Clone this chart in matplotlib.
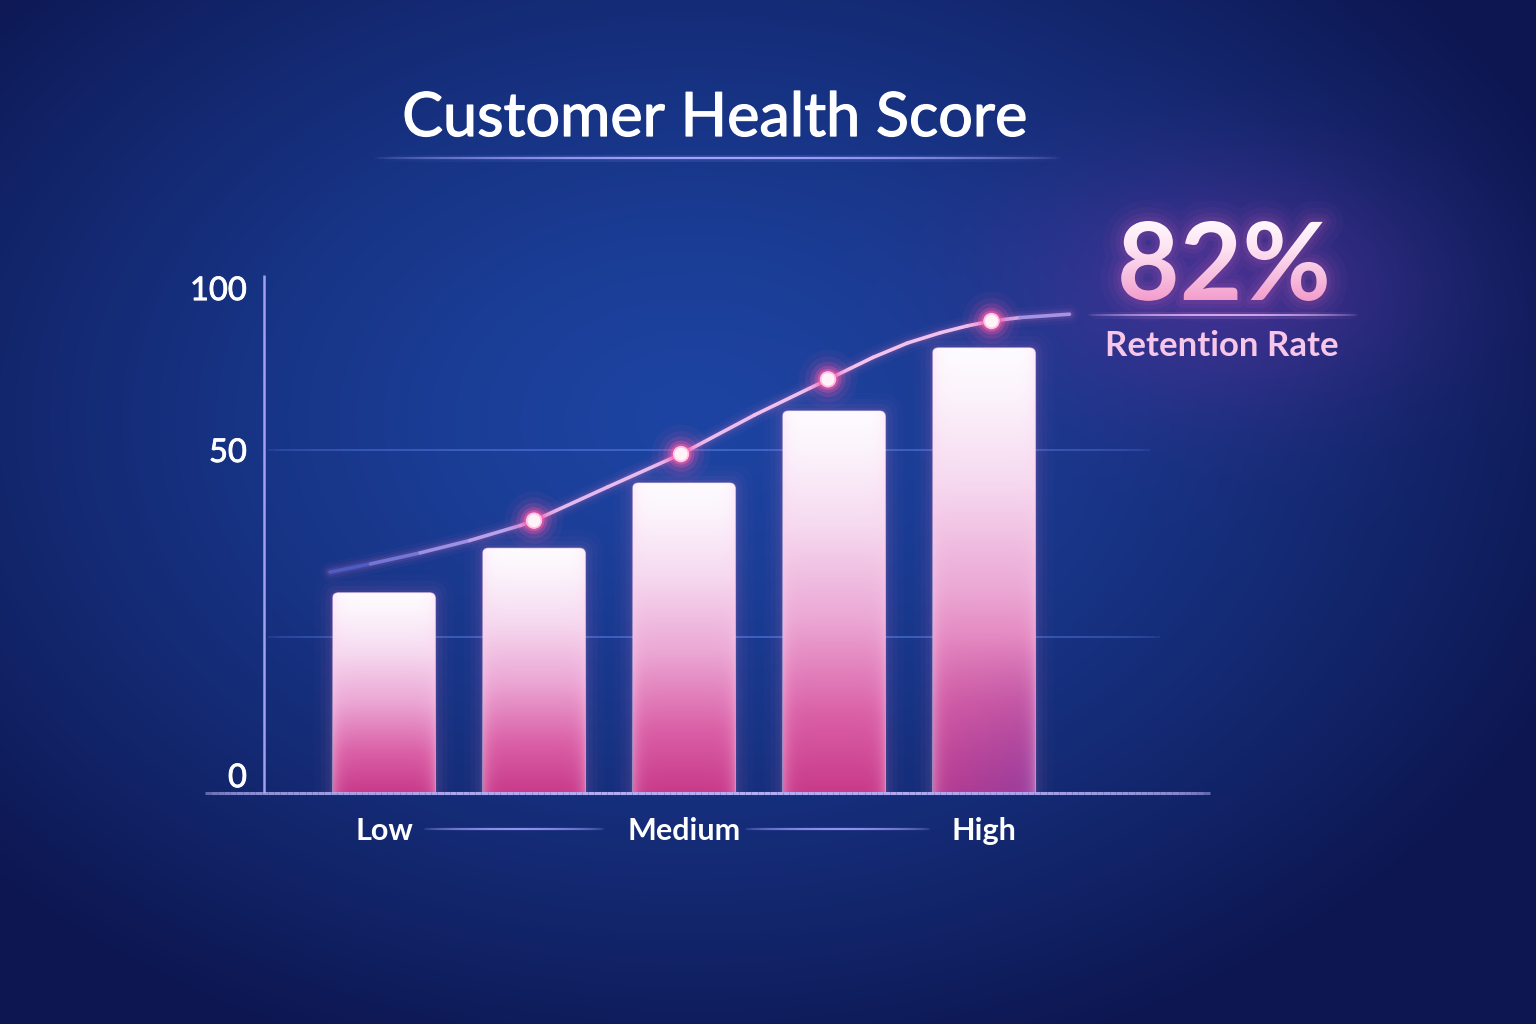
import numpy as np
import matplotlib
matplotlib.use("Agg")
import matplotlib.pyplot as plt
import matplotlib.patheffects as pe
from matplotlib.patches import FancyBboxPatch, PathPatch
from matplotlib.collections import LineCollection
from matplotlib.textpath import TextPath
from matplotlib.font_manager import FontProperties
from matplotlib.colors import LinearSegmentedColormap, to_rgba
from matplotlib.transforms import Affine2D, blended_transform_factory

# ---------------- data ----------------
title = "Customer Health Score"
segment_labels = ["Low", "Medium", "High"]
segment_positions = [0, 2, 4]
bar_positions = [0, 1, 2, 3, 4]
bar_values = [29.2, 35.7, 45.2, 55.7, 64.9]
trend_x = [-0.36, -0.09, 0.24, 0.57, 0.91, 1.0, 1.49, 1.98, 2.47, 2.96,
           3.26, 3.49, 3.71, 3.89, 4.05, 4.24, 4.57]
trend_y = [32.2, 33.4, 35.0, 36.8, 39.0, 39.7, 44.6, 49.4, 55.1, 60.3,
           63.5, 65.6, 67.1, 68.1, 68.8, 69.3, 69.8]
point_x = [1.0, 1.98, 2.96, 4.05]
point_y = [39.7, 49.4, 60.3, 68.8]
y_labels = ["0", "50", "100"]
y_label_levels = [2.6, 50, 73.6]
grid_levels = [22.7, 50]
kpi_value = 82
kpi_label = "Retention Rate"

FONT = "Lato"
W, H = 1536, 1024
fig = plt.figure(figsize=(W / 100, H / 100), dpi=100)

# ---------------- background ----------------
bg = fig.add_axes([0, 0, 1, 1], zorder=0)
bg.axis("off")
yy, xx = np.mgrid[0:H, 0:W].astype(float)
d = np.sqrt(((xx - 690) / 950) ** 2 + ((yy - 420) / 680) ** 2)
t = np.clip(d, 0, 1) ** 1.35
c_in = np.array([29, 68, 162]) / 255
c_out = np.array([13, 22, 80]) / 255
img = c_in * (1 - t[..., None]) + c_out * t[..., None]
g = np.exp(-(((xx - 1225) / 200) ** 2 + ((yy - 285) / 120) ** 2))
purple = np.array([105, 52, 165]) / 255
img = img * (1 - 0.5 * g[..., None]) + purple * 0.5 * g[..., None]
bg.imshow(img, extent=[0, W, 0, H], origin="upper", aspect="auto", zorder=0,
          interpolation="bilinear")


def fade_line(axis, x0, x1, y, color, lw, amax=1.0, transform=None, n=160,
              power=0.6, zorder=3):
    xs = np.linspace(x0, x1, n + 1)
    segs = [[(xs[i], y), (xs[i + 1], y)] for i in range(n)]
    u = (np.arange(n) + 0.5) / n
    a = np.sin(np.pi * u) ** power
    rgba = np.tile(to_rgba(color), (n, 1))
    rgba[:, 3] = amax * a
    lc = LineCollection(segs, colors=rgba, linewidths=lw, zorder=zorder,
                        capstyle="butt")
    if transform is not None:
        lc.set_transform(transform)
    axis.add_collection(lc)
    return lc


# title + underline
fig.text(715 / W, 1 - 136 / H, title, ha="center", va="baseline", fontsize=44,
         color="white", family=FONT, zorder=5,
         path_effects=[pe.withStroke(linewidth=0.9, foreground="white")])
fade_line(bg, 375, 1060, H - 158, "#8f93f2", 5, amax=0.15, zorder=2)
fade_line(bg, 375, 1060, H - 158, "#a7a9ff", 1.6, amax=0.95, zorder=3)

# KPI text with gradient fill
fp_bold = FontProperties(family=FONT, weight="bold")
tp = TextPath((0, 0), f"{kpi_value}%", size=100, prop=fp_bold)
bb = tp.get_extents()
sc = 80.0 / bb.height
cx, cy = 1224, H - 261
tr = Affine2D().translate(-(bb.x0 + bb.x1) / 2, -(bb.y0 + bb.y1) / 2).scale(sc).translate(cx, cy)
kpath = tr.transform_path(tp)
for lw, a in [(30, 0.03), (20, 0.045), (12, 0.06), (6, 0.07)]:
    bg.add_patch(PathPatch(kpath, fc="none", ec="#ff6ec4", lw=lw, alpha=a,
                           joinstyle="round", zorder=3))
kclip = PathPatch(kpath, fc="none", ec="none", zorder=4)
bg.add_patch(kclip)
kb = kpath.get_extents()
kgrad = np.linspace(0, 1, 256)[:, None] * np.ones((1, 8))
kcmap = LinearSegmentedColormap.from_list("k", ["#f39ccb", "#f7c0e0", "#fde4f3", "#fff8fc"])
kim = bg.imshow(kgrad, cmap=kcmap, extent=[kb.x0, kb.x1, kb.y0, kb.y1],
                origin="lower", aspect="auto", zorder=4, interpolation="bilinear")
kim.set_clip_path(kclip)
fade_line(bg, 1088, 1358, H - 315, "#e0a6f2", 5, amax=0.15, zorder=3)
fade_line(bg, 1088, 1358, H - 315, "#e8b4f6", 1.4, amax=0.9, zorder=3)
fig.text(1222 / W, 1 - 356 / H, kpi_label, ha="center", va="baseline",
         fontsize=25, fontweight="bold", color="#f7c6e8", family=FONT, zorder=5)

bg.set_xlim(0, W)
bg.set_ylim(0, H)

# ---------------- main chart axes ----------------
L, R, B, T = 205, 1210, 793, 250      # pixel frame
PX, PY, X0 = 150.0, 6.86, 384.0       # px per unit / first bar centre
ax = fig.add_axes([L / W, 1 - B / H, (R - L) / W, (B - T) / H], zorder=1)
ax.patch.set_alpha(0)
for s in ax.spines.values():
    s.set_visible(False)
ax.set_xticks([])
ax.set_yticks([])
xlim = ((L - X0) / PX, (R - X0) / PX)
ylim = (0, (B - T) / PY)
ax.set_xlim(*xlim)
ax.set_ylim(*ylim)
yaxis_x = (264 - X0) / PX

# gridlines
for lvl, xe in zip(grid_levels, [1160, 1150]):
    fade_line(ax, (268 - X0) / PX, (xe - X0) / PX, lvl, "#4d72d6", 1.3, amax=0.75,
              power=0.25, zorder=1)

# y axis line
ax.plot([yaxis_x, yaxis_x], [0, (B - 275) / PY], color="#a29ff0", lw=1.8,
        zorder=2, solid_capstyle="butt")
for lab, lvl in zip(y_labels, y_label_levels):
    ax.text(yaxis_x - 17 / PX, lvl, lab, ha="right", va="center_baseline",
            fontsize=23.5, color="white", family=FONT,
            path_effects=[pe.withStroke(linewidth=0.6, foreground="white")])

# bars
bars = ax.bar(bar_positions, bar_values, width=103 / PX, color="none",
              edgecolor="none", zorder=3)
bgrad = np.linspace(0, 1, 256)[:, None] * np.ones((1, 40))
edge = np.abs(np.linspace(-1, 1, 40))[None, :] ** 8
hx = np.linspace(0, 1, 40)[None, :]
for i, b in enumerate(bars):
    bx, by, bw, bh = b.get_x(), b.get_y(), b.get_width(), b.get_height()
    cm = LinearSegmentedColormap.from_list(
        f"b{i}", [(0, "#c83a8a"), (0.2, "#da5fa6"), (0.45, "#eba6d4"),
                  (0.7, "#f6daf0"), (0.9, "#fcf4fc"), (1, "#fefcff")])
    rgba = cm(bgrad)
    if i == len(bars) - 1:
        # purple tint toward the lower right of the tallest bar
        pv = np.clip(1 - bgrad / 0.35, 0, 1) * (0.35 + 0.65 * hx)
        rgba[..., :3] = rgba[..., :3] * (1 - 0.7 * pv[..., None]) + np.array([0.52, 0.25, 0.65]) * 0.7 * pv[..., None]
    rgba[..., :3] = rgba[..., :3] * (1 - 0.3 * edge[..., None]) + np.array([1, 0.82, 0.94]) * 0.3 * edge[..., None]
    for pad, a in [(18, 0.02), (12, 0.03), (7, 0.045), (3, 0.06)]:
        ax.add_patch(FancyBboxPatch((bx - pad / PX, by - 3), bw + 2 * pad / PX, bh + 3 + pad / PY,
                                    boxstyle=f"round,pad=0,rounding_size={(6 + pad) / PX}",
                                    mutation_aspect=PX / PY, fc="#ff8fd4", ec="none",
                                    alpha=a, zorder=2))
    clip = FancyBboxPatch((bx, by - 3), bw, bh + 3,
                          boxstyle=f"round,pad=0,rounding_size={6 / PX}",
                          mutation_aspect=PX / PY, fc="none", ec="#ffd6f0", lw=0.8,
                          alpha=0.5, zorder=3.5)
    ax.add_patch(clip)
    im = ax.imshow(rgba, extent=[bx, bx + bw, by, by + bh], origin="lower",
                   aspect="auto", zorder=3, interpolation="bilinear")
    im.set_clip_path(clip)

# baseline
fade_line(ax, 0, 1, 0, "#b4aef5", 2.2, amax=1.0, transform=ax.transAxes,
          power=0.15, zorder=4)

# trend line with glow
tx, ty = np.array(trend_x), np.array(trend_y)
for lw, a in [(14, 0.035), (9, 0.06), (5.5, 0.1)]:
    ax.plot(tx, ty, color="#ff7ec8", lw=lw, alpha=a, solid_capstyle="round",
            solid_joinstyle="round", zorder=4)
pts = np.column_stack([tx, ty]).reshape(-1, 1, 2)
segs = np.concatenate([pts[:-1], pts[1:]], axis=1)
f = np.linspace(0, 1, len(segs))
lcm = LinearSegmentedColormap.from_list(
    "l", [(0, "#4c5cc6"), (0.15, "#a596ea"), (0.3, "#e2b6f0"), (0.6, "#f4c4ee"),
          (0.88, "#eec0ee"), (1, "#a394e4")])
lc = LineCollection(segs, colors=lcm(f), linewidths=2.6, capstyle="round",
                    joinstyle="round", zorder=5)
ax.add_collection(lc)

# points with glow
for s, a in [(1800, 0.05), (1100, 0.09), (650, 0.16), (380, 0.28), (230, 0.5)]:
    ax.scatter(point_x, point_y, s=s, color="#ff5aac", alpha=a, edgecolors="none", zorder=6)
ax.scatter(point_x, point_y, s=140, color="#ffc4e2", edgecolors="none", zorder=7)
ax.scatter(point_x, point_y, s=85, color="#fff2f8", edgecolors="none", zorder=7)

# category labels and connectors
ylab = (B - 840) / (B - T)
for lab, pos in zip(segment_labels, segment_positions):
    ax.text(pos, ylab, lab, transform=ax.get_xaxis_transform(), ha="center",
            va="baseline", fontsize=22, fontweight="bold", color="white",
            family=FONT)
yconn = (B - 829) / (B - T)
btr = blended_transform_factory(ax.transData, ax.transAxes)
for xa, xb in [(424, 604), (745, 930)]:
    fade_line(ax, (xa - X0) / PX, (xb - X0) / PX, yconn, "#8f92ee", 1.6,
              amax=1.0, transform=btr, power=0.5, zorder=4)
for coll in ax.collections:
    coll.set_clip_on(False)

ax.set_xlim(*xlim)
ax.set_ylim(*ylim)

fig.savefig("out.png", dpi=100)
